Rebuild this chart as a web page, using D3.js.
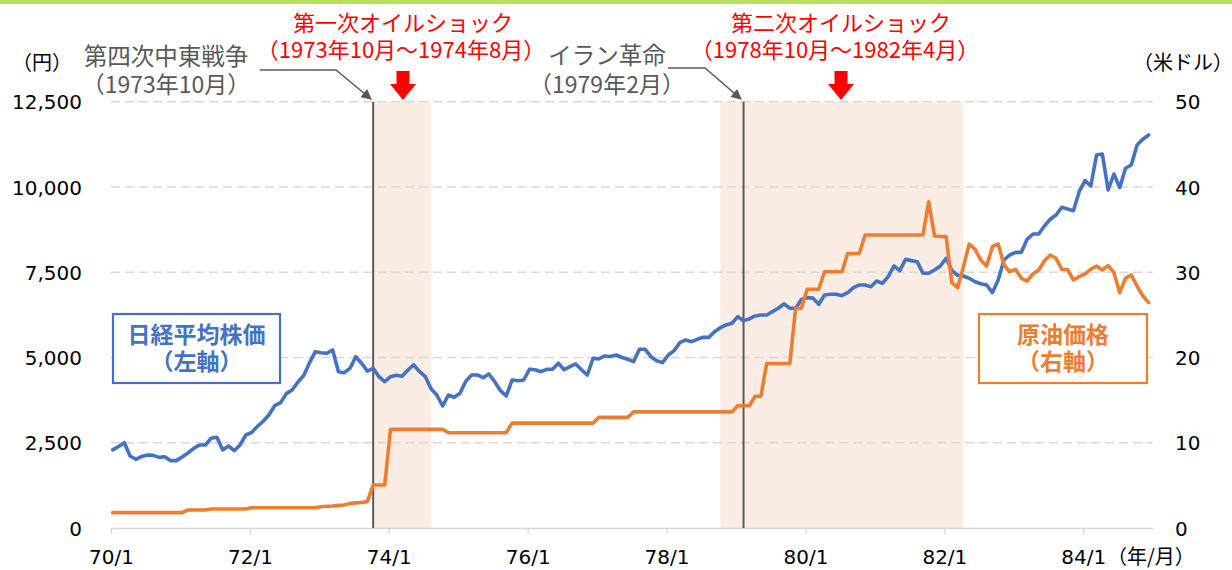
<!DOCTYPE html>
<html>
<head>
<meta charset="utf-8">
<script src="https://cdn.jsdelivr.net/npm/d3@7/dist/d3.min.js"></script>
<style>
  html, body { margin: 0; padding: 0; background: #fff; }
  svg { display: block; }
</style>
</head>
<body>
<svg id="chart" width="1232" height="570"></svg>
<script>
// ---------------- DATA ----------------
const startYear = 1970;
const monthCount = 180; // 1970/1 .. 1984/12

// 日経平均株価 (円), monthly
const nikkei = [
  2290,2390,2500,2110,2015,2100,2140,2130,2070,2090,1975,1975,
  2080,2200,2335,2435,2435,2630,2660,2290,2405,2267,2435,2727,
  2800,2980,3130,3320,3590,3675,3940,4047,4280,4470,4840,5170,
  5140,5123,5220,4580,4555,4683,5023,4830,4600,4683,4437,4290,
  4437,4480,4450,4633,4780,4590,4440,4080,3900,3577,3900,3832,
  3950,4300,4487,4487,4408,4516,4290,4027,3871,4340,4320,4340,
  4653,4640,4583,4653,4653,4830,4640,4730,4810,4640,4487,4976,
  4960,5044,5030,5073,5000,4947,4877,5240,5240,5023,4906,4848,
  5073,5200,5434,5513,5464,5533,5592,5590,5757,5874,5953,6003,
  6197,6080,6130,6217,6246,6246,6343,6442,6570,6442,6442,6700,
  6754,6740,6559,6832,6852,6852,6812,6900,7047,7126,7126,7076,
  7243,7175,7370,7683,7546,7880,7840,7810,7470,7470,7565,7683,
  7908,7550,7410,7390,7321,7220,7160,7126,6900,7272,7858,8005,
  8083,8083,8465,8621,8621,8856,9052,9178,9404,9354,9304,9862,
  10184,10028,10937,10967,9912,10380,9980,10548,10645,11231,11398,11524
];

// 原油価格 (米ドル), monthly
const oil = [
  1.8,1.8,1.8,1.8,1.8,1.8,1.8,1.8,1.8,1.8,1.8,1.8,
  1.8,2.11,2.11,2.11,2.11,2.23,2.23,2.23,2.23,2.23,2.23,2.23,
  2.38,2.38,2.38,2.38,2.38,2.38,2.38,2.38,2.38,2.38,2.38,2.38,
  2.5,2.55,2.58,2.65,2.7,2.89,2.95,3.0,3.09,5.04,5.04,5.04,
  11.57,11.57,11.57,11.57,11.57,11.57,11.57,11.57,11.57,11.57,11.18,11.18,
  11.18,11.18,11.18,11.18,11.18,11.18,11.18,11.18,11.18,12.3,12.3,12.3,
  12.3,12.3,12.3,12.3,12.3,12.3,12.3,12.3,12.3,12.3,12.3,12.3,
  12.98,12.98,12.98,12.98,12.98,12.98,13.62,13.62,13.62,13.62,13.62,13.62,
  13.62,13.62,13.62,13.62,13.62,13.62,13.62,13.62,13.62,13.62,13.62,13.62,
  14.33,14.33,14.33,15.45,15.45,19.3,19.3,19.3,19.3,19.3,25.77,25.77,
  28,28,28,30.06,30.06,30.06,30.06,32.2,32.2,32.2,34.37,34.37,
  34.37,34.37,34.37,34.37,34.37,34.37,34.37,34.37,34.37,38.27,34.25,34.2,
  34.17,28.77,28.18,30.65,33.31,32.69,31.43,30.73,33.0,33.31,30.85,30.06,
  30.34,29.29,28.97,29.79,30.26,31.35,32.02,31.63,30.34,30.3,29.09,29.48,
  29.79,30.34,30.73,30.26,30.77,29.95,27.6,29.29,29.67,28.38,27.21,26.43
];

const xTickLabels = ["70/1","72/1","74/1","76/1","78/1","80/1","82/1","84/1"];
const leftTicks = [0, 2500, 5000, 7500, 10000, 12500];
const rightTicks = [0, 10, 20, 30, 40, 50];

// oil shocks (shaded periods)
const shocks = [
  { title: "第一次オイルショック", period: "（1973年10月～1974年8月）", from: [1973,10], to: [1974,8] },
  { title: "第二次オイルショック", period: "（1978年10月～1982年4月）", from: [1978,10], to: [1982,4] }
];
// events (vertical lines)
const events = [
  { title: "第四次中東戦争", date: "（1973年10月）", at: [1973,10] },
  { title: "イラン革命", date: "（1979年2月）", at: [1979,2] }
];

// ---------------- CHART ----------------
const svg = d3.select("#chart");
const FONT_NUM = "'DejaVu Sans', 'Noto Sans CJK JP', sans-serif";
const FONT_JP = "'Noto Sans CJK JP', 'Noto Sans', sans-serif";
const BLUE = "#4472C4", ORANGE = "#ED7D31", GRAY = "#595959", GRID = "#D9D9D9";

const monthIdx = (ym) => (ym[0] - startYear) * 12 + (ym[1] - 1);
const OFF = 0.3; // data points sit slightly right of month tick

const x = d3.scaleLinear().domain([0, monthCount]).range([111, 1152.7]);
const yL = d3.scaleLinear().domain([0, 12500]).range([528, 101.7]);
const yR = d3.scaleLinear().domain([0, 50]).range([528, 101.7]);

// top green bar
svg.append("rect").attr("x", 0).attr("y", 0).attr("width", 1232).attr("height", 4).attr("fill", "#B8E157");

// shaded bands
svg.append("g").selectAll("rect").data(shocks).join("rect")
  .attr("x", d => x(monthIdx(d.from) + OFF))
  .attr("y", yL(12500))
  .attr("width", d => x(monthIdx(d.to) + OFF) - x(monthIdx(d.from) + OFF))
  .attr("height", yL(0) - yL(12500))
  .attr("fill", "#FBEDE3");

// gridlines
svg.append("g").selectAll("line").data(leftTicks.filter(t => t > 0)).join("line")
  .attr("x1", 111).attr("x2", 1152.7)
  .attr("y1", d => yL(d)).attr("y2", d => yL(d))
  .attr("stroke", GRID).attr("stroke-width", 1.5).attr("stroke-dasharray", "9,5");

// x axis
const xTickIdx = xTickLabels.map((_, i) => i * 24);
const xAxis = d3.axisBottom(x).tickValues(xTickIdx).tickSize(6).tickSizeOuter(0)
  .tickFormat((d, i) => xTickLabels[i]);
const gx = svg.append("g").attr("transform", `translate(0,${yL(0)})`).call(xAxis);
gx.select(".domain").attr("stroke", GRID).attr("stroke-width", 1.5);
gx.selectAll(".tick line").attr("stroke", GRID).attr("stroke-width", 1.5);
gx.selectAll(".tick text").attr("font-family", FONT_NUM).attr("font-size", 20)
  .attr("fill", "#000").attr("dy", null).attr("y", 35.5);
svg.append("text").attr("x", 1107).attr("y", 563.5)
  .attr("font-family", FONT_JP).attr("font-size", 20).attr("fill", "#000").text("（年/月）");

// left axis
const yAxisL = d3.axisLeft(yL).tickValues(leftTicks).tickSize(0).tickPadding(0)
  .tickFormat(d3.format(","));
const gyl = svg.append("g").attr("transform", "translate(82,0)").call(yAxisL);
gyl.select(".domain").remove();
gyl.selectAll(".tick text").attr("font-family", FONT_NUM).attr("font-size", 20)
  .attr("fill", "#000").attr("dy", "0.36em");

// right axis
const yAxisR = d3.axisRight(yR).tickValues(rightTicks).tickSize(0).tickPadding(0);
const gyr = svg.append("g").attr("transform", "translate(1175,0)").call(yAxisR);
gyr.select(".domain").remove();
gyr.selectAll(".tick text").attr("font-family", FONT_NUM).attr("font-size", 20)
  .attr("fill", "#000").attr("dy", "0.36em");

// unit labels
svg.append("text").attr("x", 42).attr("y", 70).attr("text-anchor", "middle")
  .attr("font-family", FONT_JP).attr("font-size", 20).attr("fill", "#000").text("（円）");
svg.append("text").attr("x", 1183).attr("y", 70).attr("text-anchor", "middle")
  .attr("font-family", FONT_JP).attr("font-size", 20).attr("fill", "#000").text("（米ドル）");

// event vertical lines
svg.append("g").selectAll("line").data(events).join("line")
  .attr("x1", d => x(monthIdx(d.at) + OFF)).attr("x2", d => x(monthIdx(d.at) + OFF))
  .attr("y1", yL(12500)).attr("y2", yL(0))
  .attr("stroke", GRAY).attr("stroke-width", 2);

// lines
const lineL = d3.line().x((d, i) => x(i + OFF)).y(d => yL(d));
const lineR = d3.line().x((d, i) => x(i + OFF)).y(d => yR(d));
svg.append("path").datum(nikkei).attr("d", lineL).attr("fill", "none")
  .attr("stroke", BLUE).attr("stroke-width", 3.6).attr("stroke-linejoin", "round").attr("stroke-linecap", "round");
svg.append("path").datum(oil).attr("d", lineR).attr("fill", "none")
  .attr("stroke", ORANGE).attr("stroke-width", 3.6).attr("stroke-linejoin", "round").attr("stroke-linecap", "round");

// arrowhead marker
const defs = svg.append("defs");
defs.append("marker").attr("id", "ah").attr("viewBox", "0 0 10 10").attr("refX", 9).attr("refY", 5)
  .attr("markerWidth", 7).attr("markerHeight", 7).attr("orient", "auto")
  .append("path").attr("d", "M0,0 L10,5 L0,10 Z").attr("fill", GRAY);

// event annotations
const evLayout = [
  { cx: 166, y1: 65, y2: 93, path: [[260,70],[336,70],[371,99]] },
  { cx: 607, y1: 64, y2: 93, path: [[668,68],[705,68],[741,99]] }
];
events.forEach((e, i) => {
  const L = evLayout[i];
  svg.append("text").attr("x", L.cx).attr("y", L.y1).attr("text-anchor", "middle")
    .attr("font-family", FONT_JP).attr("font-size", 23.5).attr("fill", GRAY).text(e.title);
  svg.append("text").attr("x", L.cx).attr("y", L.y2).attr("text-anchor", "middle")
    .attr("font-family", FONT_JP).attr("font-size", 23).attr("fill", GRAY).text(e.date);
  svg.append("path").attr("d", d3.line()(L.path)).attr("fill", "none")
    .attr("stroke", GRAY).attr("stroke-width", 1.5).attr("marker-end", "url(#ah)");
});

// oil shock annotations + red arrows
const shLayout = [ { cx: 403, cx2: 401, ax: 403 }, { cx: 841, cx2: 835, ax: 841 } ];
shocks.forEach((s, i) => {
  const L = shLayout[i];
  svg.append("text").attr("x", L.cx).attr("y", 31).attr("text-anchor", "middle")
    .attr("font-family", FONT_JP).attr("font-size", 22).attr("fill", "#FF0000").text(s.title);
  svg.append("text").attr("x", L.cx2).attr("y", 58).attr("text-anchor", "middle")
    .attr("font-family", FONT_JP).attr("font-size", 22).attr("fill", "#FF0000").text(s.period);
  const a = L.ax;
  svg.append("path")
    .attr("d", `M${a-6.5},71 L${a+6.5},71 L${a+6.5},84 L${a+13},84 L${a},100 L${a-13},84 L${a-6.5},84 Z`)
    .attr("fill", "#FF0000");
});

// legend boxes
function legendBox(x0, y0, w, h, color, l1, l2) {
  svg.append("rect").attr("x", x0).attr("y", y0).attr("width", w).attr("height", h)
    .attr("fill", "#fff").attr("stroke", color).attr("stroke-width", 2.2);
  svg.append("text").attr("x", x0 + w / 2).attr("y", y0 + 29).attr("text-anchor", "middle")
    .attr("font-family", FONT_JP).attr("font-weight", "bold").attr("font-size", 23).attr("fill", color).text(l1);
  svg.append("text").attr("x", x0 + w / 2).attr("y", y0 + 56).attr("text-anchor", "middle")
    .attr("font-family", FONT_JP).attr("font-weight", "bold").attr("font-size", 23).attr("fill", color).text(l2);
}
legendBox(113, 314, 167, 69, BLUE, "日経平均株価", "（左軸）");
legendBox(979, 314, 168, 69, ORANGE, "原油価格", "（右軸）");
</script>
</body>
</html>
